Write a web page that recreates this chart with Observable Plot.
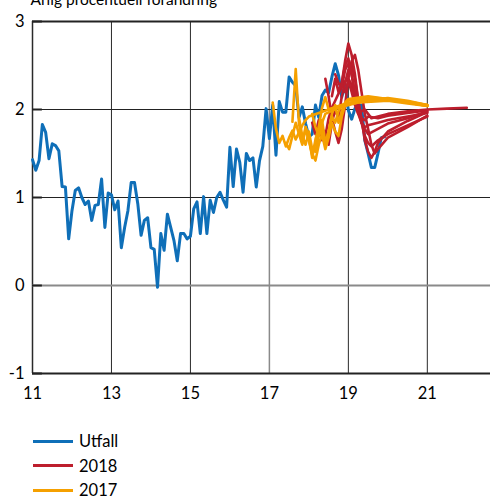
<!DOCTYPE html>
<html><head><meta charset="utf-8">
<script src="https://cdn.jsdelivr.net/npm/d3@7"></script>
<script src="https://cdn.jsdelivr.net/npm/@observablehq/plot@0.6"></script>
<style>
body{margin:0;background:#fff;font-family:Lato,sans-serif;}
#legend{position:relative;height:87px;}
.row{position:absolute;left:0;height:0;}
.sw{position:absolute;left:33px;width:40px;height:3px;margin-top:-1.5px;}
.lb{position:absolute;left:79px;top:-11px;font-size:16.5px;line-height:22px;white-space:nowrap;color:#000;}
</style></head><body>
<div id="chart"></div>
<div id="legend"></div>
<script>
// Utfall: monthly values from 2011-01 to 2019-12
const utfall = [
 1.43,1.31,1.42,1.83,1.74,1.44,1.61,1.59,1.53,1.125,1.12,0.53,
 0.85,1.08,1.11,1.00,0.92,0.96,0.74,0.91,0.92,1.21,0.66,1.05,
 1.03,0.86,0.96,0.43,0.66,0.85,1.17,1.17,0.93,0.57,0.74,0.77,
 0.43,0.41,-0.02,0.59,0.40,0.81,0.66,0.51,0.28,0.59,0.59,0.53,
 0.56,0.87,0.95,0.59,1.01,0.59,0.97,0.83,1.00,1.06,0.97,0.89,
 1.57,1.125,1.55,1.40,1.06,1.50,1.42,1.45,1.12,1.42,1.58,2.01,
 1.67,2.05,1.48,2.09,1.97,1.97,2.37,2.31,2.27,1.91,2.03,1.84,
 1.69,1.72,2.05,1.91,2.16,2.22,2.19,2.37,2.52,2.39,2.14,2.29,
 1.99,1.89,2.01,2.05,2.05,1.65,1.50,1.34,1.34,1.50,1.68,1.69
];
const utfallStart = "11-01";

// Forecast vintages made in 2017: monthly path from start, then sparse path points
const prog2017 = [
 {start:"17-02", months:[2.08,1.78,1.62,1.70,1.58,1.68,1.76,1.66,1.74,1.82,1.88,1.92],
  tail:[["18-04",1.96],["18-10",2.04],["19-04",2.08],["20-01",2.10],["20-07",2.07],["21-01",2.04]]},
 {start:"17-06", months:[1.62,1.55,1.70,1.85,1.72,1.60,1.78,1.65,1.48,1.62,1.78,1.85,1.95],
  tail:[["18-10",2.02],["19-04",2.08],["20-01",2.12],["20-07",2.08],["21-01",2.04]]},
 {start:"17-08", months:[1.86,2.46,1.84,1.62,1.80,1.70,1.45,1.66,1.80,2.02,2.14,2.00],
  tail:[["18-11",2.05],["19-06",2.12],["20-01",2.12],["20-07",2.09],["21-01",2.05]]},
 {start:"17-10", months:[1.90,1.70,1.60,1.75,1.55,1.52,1.70,1.78,1.60,1.75,1.92,1.85,1.98,2.05],
  tail:[["19-04",2.10],["20-01",2.13],["20-07",2.10],["21-01",2.05]]},
 {start:"17-12", months:[1.80,1.65,1.50,1.42,1.60,1.72,1.55,1.68,1.85,1.75,1.70,1.92,2.05,2.10],
  tail:[["19-07",2.14],["20-01",2.12],["20-07",2.08],["21-01",2.04]]},
 {start:"18-02", months:[1.95,1.80,1.70,1.88,1.62,1.75,1.95,2.05,1.85,1.98,2.08,2.12],
  tail:[["19-07",2.15],["20-01",2.12],["20-08",2.08],["21-01",2.05]]}
];

// Forecast vintages made in 2018
const prog2018 = [
 {start:"18-02", months:[1.85,1.72,1.88,1.80,1.70,1.90,2.02,2.10,2.18,2.25,2.32,2.35,2.28,2.10,1.95,1.85,1.80,1.82],
  tail:[["19-10",1.85],["20-01",1.88],["20-07",1.92],["21-01",1.96]]},
 {start:"18-04", months:[1.80,1.65,1.75,1.60,1.85,2.00,1.90,2.15,2.30,2.45,2.50,2.35,2.10,1.85,1.70,1.62,1.58],
  tail:[["19-10",1.65],["20-01",1.72],["20-07",1.82],["21-01",1.92]]},
 {start:"18-06", months:[2.35,2.15,1.90,1.75,1.62,1.78,2.05,2.35,2.55,2.62,2.45,2.20,1.95,1.78,1.60,1.50,1.55],
  tail:[["20-01",1.68],["20-07",1.80],["21-01",1.93]]},
 {start:"18-08", months:[2.15,2.35,2.20,2.30,2.55,2.75,2.62,2.40,2.10,1.90,1.65,1.52,1.45,1.52,1.62],
  tail:[["20-01",1.75],["20-07",1.87],["21-01",1.97]]},
 {start:"18-09", months:[2.40,2.30,2.25,2.45,2.52,2.40,2.15,1.98,1.85,1.78,1.72],
  tail:[["19-10",1.78],["20-01",1.84],["20-07",1.90],["21-01",1.98]]},
 {start:"18-10", months:[2.22,2.30,2.50,2.58,2.40,2.20,2.02,1.90,1.88,1.92],
  tail:[["19-10",1.90],["20-01",1.93],["20-07",1.96],["21-01",1.99]]},
 {start:"18-12", months:[2.20,2.32,2.20,2.05,1.95,1.98,2.00,1.95,1.90],
  tail:[["19-10",1.92],["20-01",1.95],["20-07",1.98],["21-01",2.00],["21-07",2.01],["22-01",2.02]]}
];

const xTicks = [11,13,15,17,19,21];
const yTicks = [-1,0,1,2,3];
const seriesNames = ["Utfall","2018","2017"];
const seriesColors = ["#0f6fb8","#bd1e2d","#f5a000"];
const titleText = "Årlig procentuell förändring";

function ym(s){const [y,m]=s.split("-").map(Number); return y+(m-1)/12;}
function expand(p,id){
  const t0=ym(p.start);
  const pts=p.months.map((v,k)=>({t:t0+k/12,v,id}));
  p.tail.forEach(([s,v])=>pts.push({t:ym(s),v,id}));
  return pts;
}
const t0u = ym(utfallStart);
const blue = utfall.map((v,i)=>({t:t0u+i/12,v}));
const orange = prog2017.flatMap((p,i)=>expand(p,"o"+i));
const red = prog2018.flatMap((p,i)=>expand(p,"r"+i));

const chart = Plot.plot({
  width:496, height:410,
  marginLeft:32, marginRight:6, marginTop:21, marginBottom:37,
  x:{domain:[11,22.6], label:null},
  y:{domain:[-1,3], label:null},
  style:{fontFamily:"Lato, sans-serif", fontSize:"16px", color:"#000", background:"#fff", overflow:"visible"},
  marks:[
    Plot.ruleX(xTicks,{stroke:d=>d===17?"#8a8a8a":"#2a2a2a", strokeWidth:d=>d===17||d===11?1.5:1}),
    Plot.ruleY(yTicks,{stroke:d=>d===0?"#8a8a8a":"#222", strokeWidth:d=>d===0?2:(d===3||d===-1?1.8:1)}),
    Plot.ruleY(yTicks,{x1:11, x2:11.25, stroke:"#222", strokeWidth:2}),
    Plot.axisX(xTicks,{tickSize:0, tickPadding:14, fontSize:16.5, label:null, tickFormat:d=>String(d)}),
    Plot.axisY(yTicks,{tickSize:0, tickPadding:8, fontSize:16.5, label:null, tickFormat:d=>String(d)}),
    Plot.line(blue,{x:"t", y:"v", stroke:seriesColors[0], strokeWidth:3}),
    Plot.line(red,{x:"t", y:"v", z:"id", stroke:seriesColors[1], strokeWidth:2.6}),
    Plot.line(orange,{x:"t", y:"v", z:"id", stroke:seriesColors[2], strokeWidth:2.6}),
    Plot.text([titleText],{frameAnchor:"top-left", dx:-2, dy:-17, textAnchor:"start", lineAnchor:"bottom", fontSize:15.5})
  ]
});
document.getElementById("chart").appendChild(chart);

const leg = document.getElementById("legend");
seriesNames.forEach((n,i)=>{
  const r=document.createElement("div"); r.className="row"; r.style.top=(31+i*24.5)+"px";
  const s=document.createElement("div"); s.className="sw"; s.style.background=seriesColors[i];
  const l=document.createElement("div"); l.className="lb"; l.textContent=n;
  r.appendChild(s); r.appendChild(l); leg.appendChild(r);
});
</script>
</body></html>
